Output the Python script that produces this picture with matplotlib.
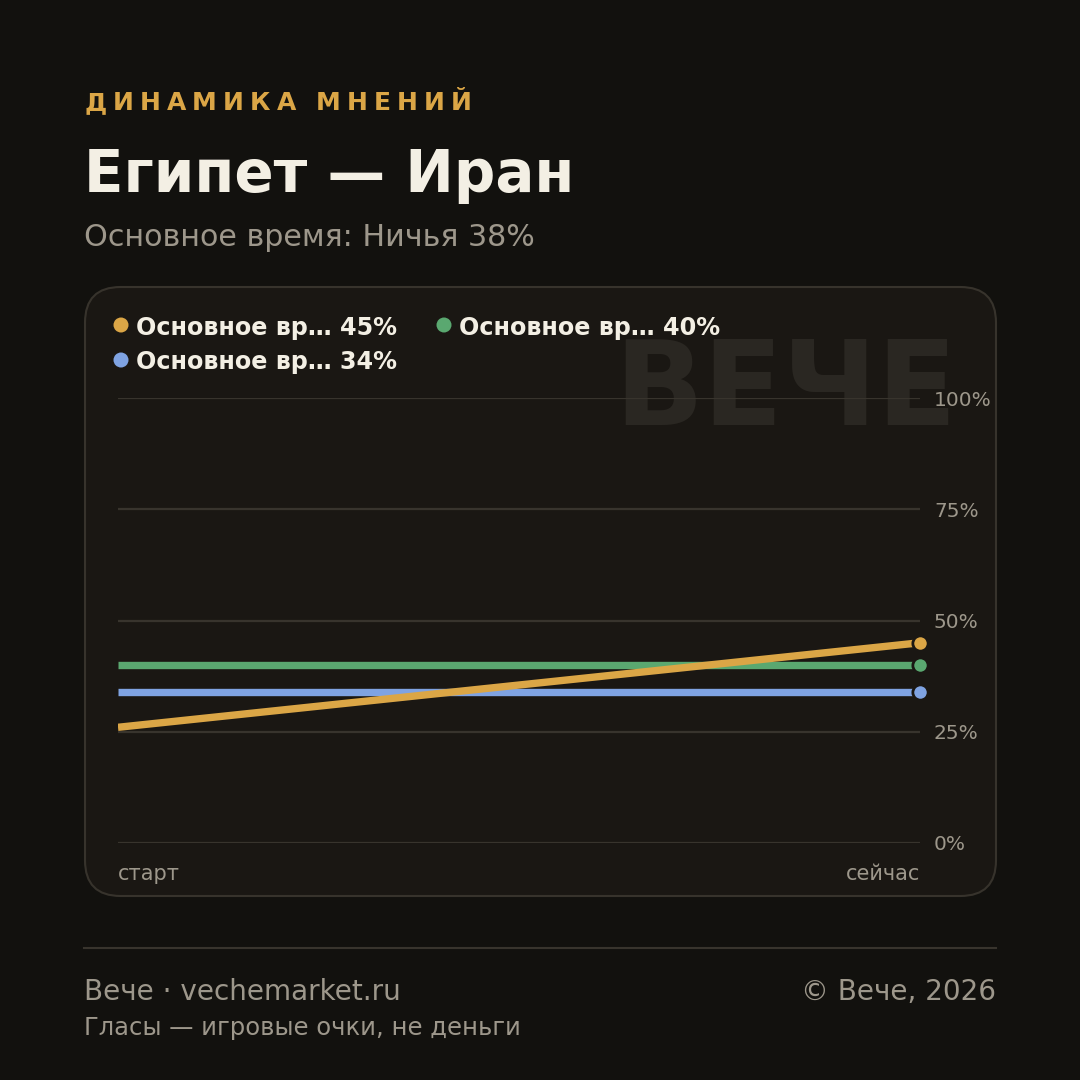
import matplotlib.pyplot as plt
from matplotlib.patches import FancyBboxPatch, Circle
from matplotlib.lines import Line2D

# data
x_labels = ['старт', 'сейчас']
gold_vals = [26, 45]
green_vals = [40, 40]
blue_vals = [34, 34]
series_names = ['Основное вр… 45%', 'Основное вр… 40%', 'Основное вр… 34%']
y_ticks = [0, 25, 50, 75, 100]
y_ticklabels = ['0%', '25%', '50%', '75%', '100%']

BG = '#12110e'
PANEL = '#1a1713'
GRID = '#38342d'
MUTED = '#9d978b'
CREAM = '#f3efe4'
GOLD = '#dba646'
GREEN = '#5aa870'
BLUE = '#7fa3e2'

plt.rcParams['font.family'] = ['DejaVu Sans']

W = 1080
fig = plt.figure(figsize=(10.8, 10.8), dpi=100, facecolor=BG)


def px(x, y):
    return x / W, 1 - y / W


# panel
panel = FancyBboxPatch(px(85, 896), 911 / W, 609 / W,
                       boxstyle='round,pad=0,rounding_size=0.033',
                       transform=fig.transFigure, facecolor=PANEL,
                       edgecolor='#37332c', linewidth=1.5, zorder=-2)
fig.add_artist(panel)

# watermark
fig.text(*px(957, 425), 'ВЕЧЕ', fontsize=84, fontweight='bold', color='#2a2722',
         ha='right', va='baseline', zorder=-1)

# axes
l, b = px(118, 843)
ax = fig.add_axes([l, b, (920 - 118) / W, (843 - 398) / W])
ax.patch.set_alpha(0)
for s in ax.spines.values():
    s.set_visible(False)
ax.set_xlim(0, 1)
ax.set_ylim(0, 100)
ax.set_yticks(y_ticks)
ax.set_yticklabels(y_ticklabels)
ax.yaxis.tick_right()
ax.tick_params(axis='y', length=0, pad=10, labelsize=14.5, labelcolor=MUTED)
ax.set_xticks([0, 1])
ax.set_xticklabels(x_labels)
ax.tick_params(axis='x', length=0, pad=15, labelsize=15, labelcolor=MUTED)
ax.get_xticklabels()[0].set_ha('left')
ax.get_xticklabels()[1].set_ha('right')
ax.grid(axis='y', color=GRID, linewidth=1.6)
ax.grid(axis='x', visible=False)
ax.set_axisbelow(True)

xs = [0, 1]
for vals, col in [(green_vals, GREEN), (blue_vals, BLUE), (gold_vals, GOLD)]:
    ax.plot(xs, vals, color=col, linewidth=5.3, solid_capstyle='butt', zorder=3)
for vals, col in [(gold_vals, GOLD), (green_vals, GREEN), (blue_vals, BLUE)]:
    ax.plot(xs[-1], vals[-1], 'o', color=col, markersize=11, markeredgecolor=PANEL,
            markeredgewidth=2, clip_on=False, zorder=4)

# legend
leg = [(121, 325, GOLD, series_names[0]), (444, 325, GREEN, series_names[1]),
       (121, 360, BLUE, series_names[2])]
for x, y, col, name in leg:
    fig.add_artist(Circle(px(x, y), 7.5 / W, transform=fig.transFigure,
                          facecolor=col, edgecolor='none'))
    fig.text(*px(x + 15, y), name, fontsize=17.2, fontweight='bold', color=CREAM,
             ha='left', va='center_baseline')

# kicker with letter spacing
kicker = 'ДИНАМИКА МНЕНИЙ'
renderer = fig.canvas.get_renderer()
widths = []
for ch in kicker:
    t = fig.text(0, 0, ch if ch != ' ' else 'И', fontsize=18, fontweight='bold')
    w = t.get_window_extent(renderer).width
    t.remove()
    widths.append(w * (0.35 if ch == ' ' else 1))
total = 472 - 84
spacing = (total - sum(widths)) / (len(kicker) - 1)
cx = 84
for ch, w in zip(kicker, widths):
    fig.text(*px(cx, 110), ch, fontsize=18, fontweight='bold', color=GOLD,
             ha='left', va='baseline')
    cx += w + spacing

fig.text(*px(84, 192), 'Египет — Иран', fontsize=41.7, fontweight='bold', color=CREAM,
         ha='left', va='baseline')
fig.text(*px(84, 246), 'Основное время: Ничья 38%', fontsize=21.7, color=MUTED,
         ha='left', va='baseline')

# footer
fig.add_artist(Line2D([84 / W, 996 / W], [1 - 948 / W] * 2, transform=fig.transFigure,
                      color=GRID, linewidth=1.5))
fig.text(*px(84, 1000), 'Вече · vechemarket.ru', fontsize=20.1, color=MUTED,
         ha='left', va='baseline')
fig.text(*px(996, 1000), '© Вече, 2026', fontsize=20.1, color=MUTED,
         ha='right', va='baseline')
fig.text(*px(84, 1035), 'Гласы — игровые очки, не деньги', fontsize=17.5, color=MUTED,
         ha='left', va='baseline')

fig.savefig('out.png', dpi=100, facecolor=BG)
